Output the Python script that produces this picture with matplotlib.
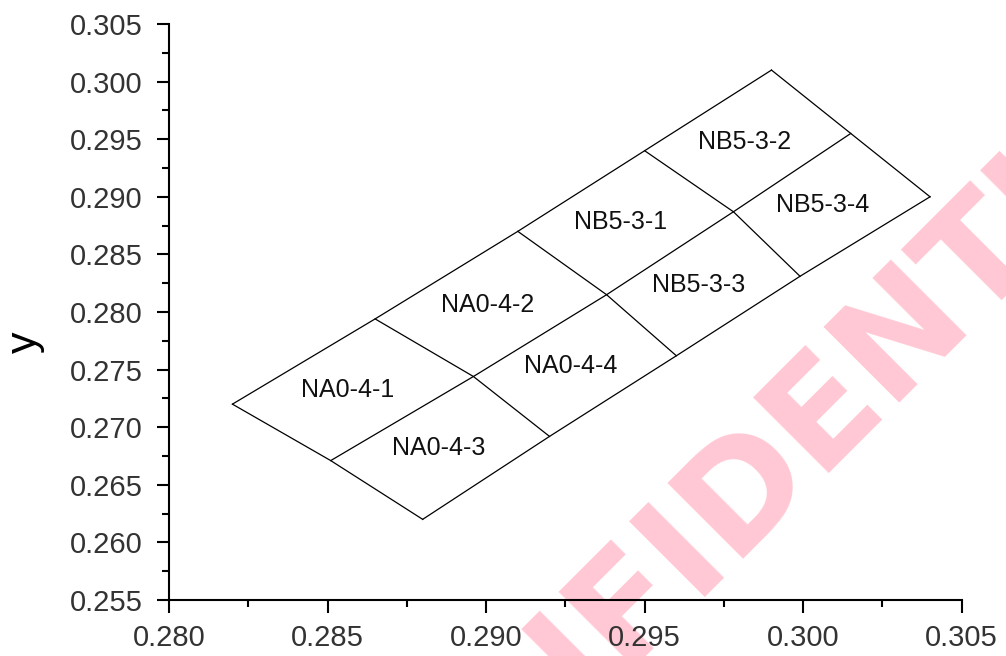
import matplotlib.pyplot as plt
from matplotlib.ticker import MultipleLocator

plt.rcParams['font.family'] = ['Liberation Sans', 'DejaVu Sans']

# grid node coordinates, rows = upper edge / middle / lower edge
grid_x = [
    [0.2820, 0.2865, 0.2910, 0.2950, 0.2990],
    [0.2851, 0.2896, 0.2938, 0.2978, 0.3015],
    [0.2880, 0.2920, 0.2960, 0.2999, 0.3040],
]
grid_y = [
    [0.2720, 0.2794, 0.2870, 0.2940, 0.3010],
    [0.2671, 0.2744, 0.2815, 0.2887, 0.2955],
    [0.2620, 0.2692, 0.2762, 0.2831, 0.2900],
]

upper_labels = ['NA0-4-1', 'NA0-4-2', 'NB5-3-1', 'NB5-3-2']
lower_labels = ['NA0-4-3', 'NA0-4-4', 'NB5-3-3', 'NB5-3-4']

fig = plt.figure(figsize=(10.06, 6.56), dpi=100)
ax = fig.add_axes([0.168, 0.0854, 0.788, 0.8780])
ax.patch.set_alpha(0)

# draw the grid lines
for r in range(3):
    ax.plot(grid_x[r], grid_y[r], color='black', lw=0.9)
for c in range(5):
    ax.plot([grid_x[r][c] for r in range(3)], [grid_y[r][c] for r in range(3)],
            color='black', lw=0.9)

# cell names at cell centres
for r, names in enumerate([upper_labels, lower_labels]):
    for c, name in enumerate(names):
        cx = (grid_x[r][c] + grid_x[r][c + 1] + grid_x[r + 1][c] + grid_x[r + 1][c + 1]) / 4
        cy = (grid_y[r][c] + grid_y[r][c + 1] + grid_y[r + 1][c] + grid_y[r + 1][c + 1]) / 4
        ax.annotate(name, (cx, cy), xytext=(-4, 0), textcoords='offset points',
                    ha='center', va='center', fontsize=18, color='#111111')

ax.set_xlim(0.280, 0.305)
ax.set_ylim(0.255, 0.305)
ax.xaxis.set_major_locator(MultipleLocator(0.005))
ax.xaxis.set_minor_locator(MultipleLocator(0.0025))
ax.yaxis.set_major_locator(MultipleLocator(0.005))
ax.yaxis.set_minor_locator(MultipleLocator(0.0025))
ax.xaxis.set_major_formatter(lambda v, p: f'{v:.3f}')
ax.yaxis.set_major_formatter(lambda v, p: f'{v:.3f}')

ax.spines['top'].set_visible(False)
ax.spines['right'].set_visible(False)
ax.spines['left'].set_linewidth(1.5)
ax.spines['bottom'].set_linewidth(1.5)
ax.tick_params(which='major', direction='out', length=9, width=1.5,
               labelsize=21, labelcolor='#333333')
ax.tick_params(which='minor', direction='out', length=5, width=1.5)
ax.tick_params(axis='y', which='major', pad=10)
ax.tick_params(axis='x', which='major', pad=8)

ax.set_ylabel('y', fontsize=31)
ax.yaxis.set_label_coords(-0.156, 0.448)

# watermark (behind the axes content)
fig.text(0.797, 0.249, 'CONFIDENTIAL', rotation=45, ha='center', va='baseline',
         fontsize=105, fontweight='bold', family='DejaVu Sans', color='#ffc8d4',
         rotation_mode='anchor', zorder=-1)

fig.savefig('out.png', dpi=100)
